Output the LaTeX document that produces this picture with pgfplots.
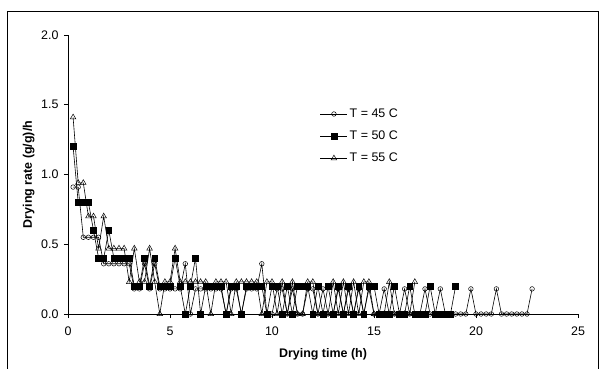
\documentclass[border=0pt]{standalone}
\usepackage{pgfplots}
\pgfplotsset{compat=1.18}
\usepackage{pgfplotstable}
\usepackage{fontspec}
\setmainfont{Liberation Sans}

\pgfplotstableread{
x y
0.25 0.91
0.50 0.91
0.75 0.55
1.00 0.55
1.25 0.55
1.50 0.55
1.75 0.36
2.00 0.36
2.25 0.36
2.50 0.36
2.75 0.36
3.00 0.36
3.25 0.18
3.50 0.18
3.75 0.36
4.00 0.18
4.25 0.36
4.50 0.18
4.75 0.18
5.00 0.18
5.25 0.18
5.50 0.18
5.75 0.36
6.00 0
6.25 0.18
6.50 0.18
6.75 0.18
7.00 0.18
7.25 0.18
7.50 0.18
7.75 0
8.00 0.18
8.25 0.18
8.50 0
8.75 0.18
9.00 0.18
9.25 0.18
9.50 0.36
9.75 0
10.00 0
10.25 0.18
10.50 0.18
10.75 0
11.00 0.18
11.25 0
11.50 0
11.75 0.18
12.00 0.18
12.25 0
12.50 0.18
12.75 0
13.00 0
13.25 0.18
13.50 0
13.75 0.18
14.00 0
14.25 0.18
14.50 0
14.75 0.18
15.00 0
15.25 0
15.50 0.18
15.75 0
16.00 0
16.25 0
16.50 0.18
16.75 0
17.00 0
17.25 0
17.50 0.18
17.75 0
18.00 0
18.25 0.18
18.50 0
18.75 0
19.00 0
19.25 0
19.50 0
19.75 0.18
20.00 0
20.25 0
20.50 0
20.75 0
21.00 0.18
21.25 0
21.50 0
21.75 0
22.00 0
22.25 0
22.50 0
22.75 0.18
}\tfortyfive

\pgfplotstableread{
x y
0.25 1.2
0.50 0.8
0.75 0.8
1.00 0.8
1.25 0.6
1.50 0.4
1.75 0.4
2.00 0.6
2.25 0.4
2.50 0.4
2.75 0.4
3.00 0.4
3.25 0.2
3.50 0.2
3.75 0.4
4.00 0.2
4.25 0.4
4.50 0.2
4.75 0.2
5.00 0.2
5.25 0.4
5.50 0.2
5.75 0
6.00 0.2
6.25 0.4
6.50 0
6.75 0.2
7.00 0.2
7.25 0.2
7.50 0.2
7.75 0
8.00 0.2
8.25 0.2
8.50 0
8.75 0.2
9.00 0.2
9.25 0.2
9.50 0.2
9.75 0
10.00 0.2
10.25 0.2
10.50 0
10.75 0.2
11.00 0
11.25 0.2
11.50 0.2
11.75 0.2
12.00 0
12.25 0.2
12.50 0
12.75 0.2
13.00 0
13.25 0.2
13.50 0
13.75 0.2
14.00 0
14.25 0.2
14.50 0
14.75 0.2
15.00 0.2
15.25 0
15.50 0
15.75 0
16.00 0.2
16.25 0
16.50 0
16.75 0.2
17.00 0
17.25 0
17.50 0
17.75 0.2
18.00 0
18.25 0
18.50 0
18.75 0
19.00 0.2
}\tfifty

\pgfplotstableread{
x y
0.25 1.41
0.50 0.94
0.75 0.94
1.00 0.70
1.25 0.70
1.50 0.47
1.75 0.70
2.00 0.47
2.25 0.47
2.50 0.47
2.75 0.47
3.00 0.23
3.25 0.47
3.50 0.23
3.75 0.23
4.00 0.47
4.25 0.23
4.50 0
4.75 0.23
5.00 0.23
5.25 0.47
5.50 0.23
5.75 0.23
6.00 0.23
6.25 0.23
6.50 0.23
6.75 0.23
7.00 0
7.25 0.23
7.50 0.23
7.75 0.23
8.00 0
8.25 0.23
8.50 0.23
8.75 0.23
9.00 0.23
9.25 0.23
9.50 0
9.75 0.23
10.00 0.23
10.25 0
10.50 0.23
10.75 0
11.00 0.23
11.25 0
11.50 0
11.75 0.23
12.00 0.23
12.25 0
12.50 0
12.75 0
13.00 0.23
13.25 0
13.50 0.23
13.75 0
14.00 0.23
14.25 0
14.50 0.23
14.75 0.23
15.00 0
15.25 0
15.50 0
15.75 0.23
16.00 0
16.25 0
16.50 0
16.75 0
17.00 0.23
}\tfiftyfive

\begin{document}
\begin{tikzpicture}
\useasboundingbox (0,0) rectangle (602bp,369bp);
\draw[line width=0.8bp] (7bp,-5bp) -- (7bp,358bp) -- (598bp,358bp) -- (598bp,-5bp);
\begin{axis}[
  at={(68bp,55bp)}, anchor=south west,
  scale only axis, width=510bp, height=279bp,
  xmin=0, xmax=25, ymin=0, ymax=2,
  axis x line*=bottom, axis y line*=left,
  axis line style={line width=0.6bp, -},
  tick align=outside, tick style={line width=0.6bp, black},
  major tick length=4bp,
  xtick={0,5,10,15,20,25}, ytick={0,0.5,1,1.5,2},
  yticklabel style={xshift=-2bp, /pgf/number format/.cd, fixed, fixed zerofill, precision=1},
  /pgf/number format/assume math mode=true,
  tick label style={font=\fontsize{12.5}{15}\selectfont},
  xticklabel style={yshift=-5bp},
  xlabel={\bfseries Drying time (h)},
  ylabel={\bfseries Drying rate (g/g)/h},
  label style={font=\fontsize{12.5}{15}\selectfont},
  xlabel style={at={(axis description cs:0.5,0)}, anchor=north, yshift=-31bp},
  ylabel style={at={(axis description cs:0,0.5)}, anchor=south, yshift=30bp},
  legend style={draw=none, fill=none, at={(rel axis cs:0.494,0.743)}, anchor=north west,
    font=\fontsize{12.5}{15}\selectfont, row sep=8bp, inner sep=0bp,
    /tikz/every even column/.append style={column sep=1bp}},
  legend image code/.code={\draw[mark repeat=2,mark phase=2,#1] plot coordinates {(0bp,0bp)(13.5bp,0bp)(27bp,0bp)};},
  legend cell align=left,
  clip=false,
]
\addplot[black, line width=0.6bp, mark=o, mark size=2.3bp, mark options={fill=white, line width=0.5bp}] table {\tfortyfive};
\addlegendentry{T = 45 C}
\addplot[black, line width=0.6bp, mark=square*, mark size=2.9bp, mark options={fill=black}] table {\tfifty};
\addlegendentry{T = 50 C}
\addplot[black, line width=0.6bp, mark=triangle, mark size=3.2bp, mark options={fill=white, line width=0.5bp}] table {\tfiftyfive};
\addlegendentry{T = 55 C}
\end{axis}
\end{tikzpicture}
\end{document}
